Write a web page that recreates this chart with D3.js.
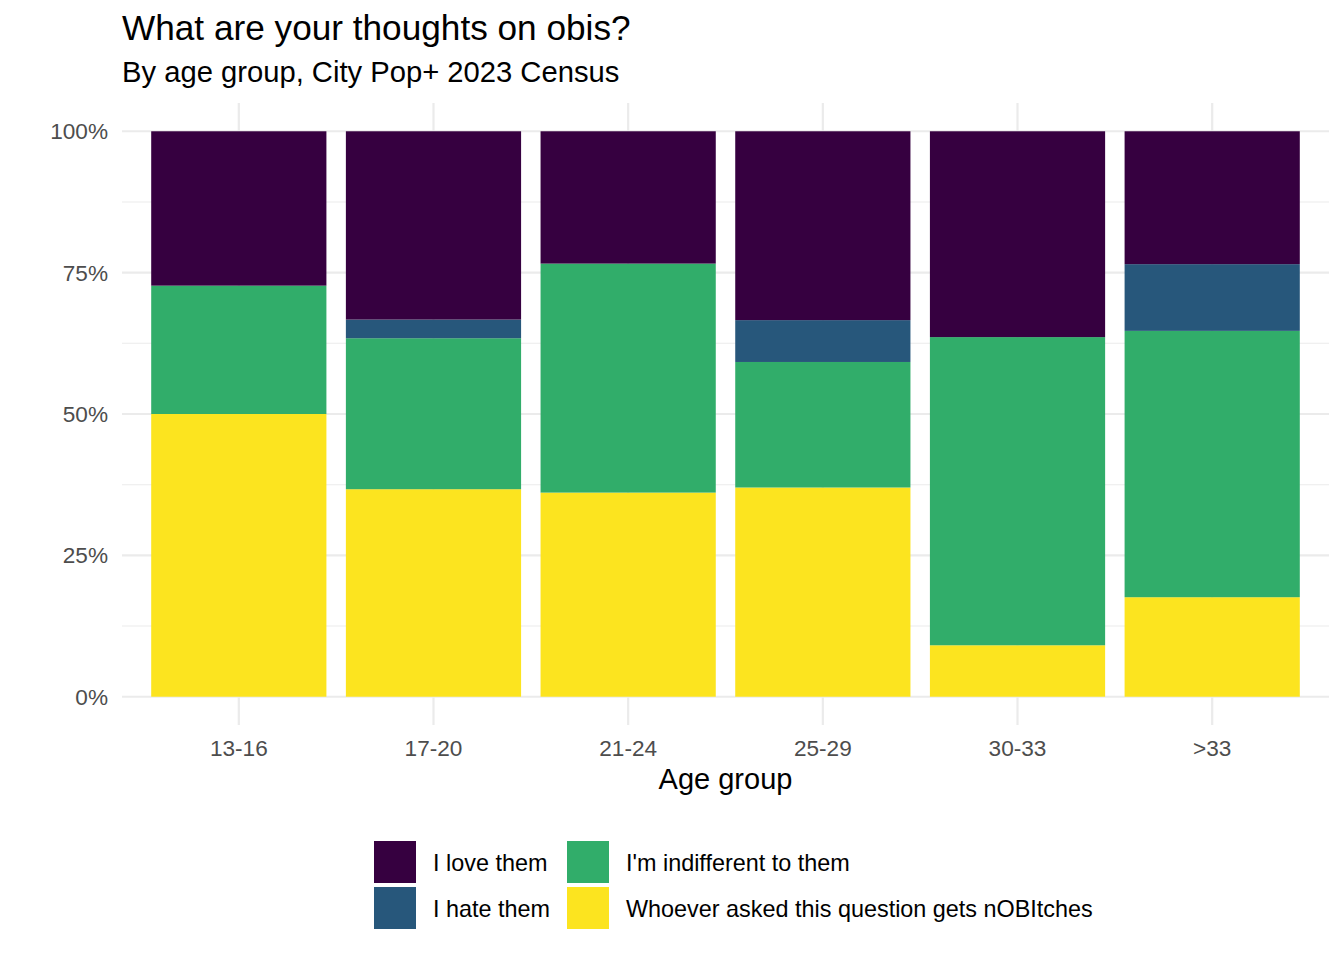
<!DOCTYPE html>
<html lang="en">
  <head>
    <meta charset="utf-8">
    <title>What are your thoughts on obis?</title>
    <style>
      body { margin: 0; background: #fff; }
      text { font-family: "Liberation Sans", Arial, Helvetica, sans-serif; }
    </style>
  </head>
  <body>
  <script src="https://d3js.org/d3.v7.min.js"></script>
  <div id="chart"></div>

  <script>

  // data, shares per age group
  var ageGroups = ["13-16", "17-20", "21-24", "25-29", "30-33", ">33"];
  var responses = ["Whoever asked this question gets nOBItches", "I'm indifferent to them", "I hate them", "I love them"];
  var whoever     = [0.500, 0.367, 0.361, 0.370, 0.091, 0.176];
  var indifferent = [0.227, 0.267, 0.405, 0.222, 0.545, 0.471];
  var hate        = [0.000, 0.033, 0.000, 0.074, 0.000, 0.118];
  var love        = [0.273, 0.333, 0.234, 0.334, 0.364, 0.235];
  var yTicks = [0, 0.25, 0.5, 0.75, 1];
  var yMinor = [0.125, 0.375, 0.625, 0.875];

  var colors = {
    "I love them": "#360040",
    "I hate them": "#27577B",
    "I'm indifferent to them": "#31AD6A",
    "Whoever asked this question gets nOBItches": "#FCE41F"
  };

  var rows = ageGroups.map(function(g, i) {
    var r = { group: g };
    r[responses[0]] = whoever[i];
    r[responses[1]] = indifferent[i];
    r[responses[2]] = hate[i];
    r[responses[3]] = love[i];
    return r;
  });

  var width = 1344, height = 960;
  var panel = { left: 122, right: 1329, top: 103, bottom: 725 };

  var svg = d3.select("#chart")
    .append("svg")
      .attr("width", width)
      .attr("height", height);

  var x = d3.scaleBand()
    .domain(ageGroups)
    .range([panel.left, panel.right])
    .paddingInner(0.1)
    .paddingOuter(0.15);

  var y = d3.scaleLinear()
    .domain([-0.05, 1.05])
    .range([panel.bottom, panel.top]);

  // grid
  svg.append("g")
    .selectAll("line")
    .data(yMinor)
    .enter()
    .append("line")
      .attr("x1", panel.left).attr("x2", panel.right)
      .attr("y1", function(d) { return y(d); })
      .attr("y2", function(d) { return y(d); })
      .attr("stroke", "#EBEBEB")
      .attr("stroke-width", 1.1);

  svg.append("g")
    .selectAll("line")
    .data(yTicks)
    .enter()
    .append("line")
      .attr("x1", panel.left).attr("x2", panel.right)
      .attr("y1", function(d) { return y(d); })
      .attr("y2", function(d) { return y(d); })
      .attr("stroke", "#EBEBEB")
      .attr("stroke-width", 2.2);

  svg.append("g")
    .selectAll("line")
    .data(ageGroups)
    .enter()
    .append("line")
      .attr("x1", function(d) { return x(d) + x.bandwidth() / 2; })
      .attr("x2", function(d) { return x(d) + x.bandwidth() / 2; })
      .attr("y1", panel.top).attr("y2", panel.bottom)
      .attr("stroke", "#EBEBEB")
      .attr("stroke-width", 2.2);

  // stacked bars
  var series = d3.stack().keys(responses)(rows);

  svg.append("g")
    .selectAll("g")
    .data(series)
    .enter()
    .append("g")
      .attr("fill", function(d) { return colors[d.key]; })
    .selectAll("rect")
    .data(function(d) { return d; })
    .enter()
    .append("rect")
      .attr("x", function(d) { return x(d.data.group); })
      .attr("y", function(d) { return y(d[1]); })
      .attr("width", x.bandwidth())
      .attr("height", function(d) { return y(d[0]) - y(d[1]); });

  // y axis labels
  svg.append("g")
    .selectAll("text")
    .data(yTicks)
    .enter()
    .append("text")
      .attr("x", 108)
      .attr("y", function(d) { return y(d) + 8; })
      .attr("text-anchor", "end")
      .attr("font-size", "22.6px")
      .attr("fill", "#4D4D4D")
      .text(function(d) { return d3.format(".0%")(d); });

  // x axis labels
  svg.append("g")
    .selectAll("text")
    .data(ageGroups)
    .enter()
    .append("text")
      .attr("x", function(d) { return x(d) + x.bandwidth() / 2; })
      .attr("y", 756)
      .attr("text-anchor", "middle")
      .attr("font-size", "22.6px")
      .attr("fill", "#4D4D4D")
      .text(function(d) { return d; });

  svg.append("text")
    .attr("x", (panel.left + panel.right) / 2)
    .attr("y", 789)
    .attr("text-anchor", "middle")
    .attr("font-size", "29px")
    .attr("fill", "black")
    .text("Age group");

  // titles
  svg.append("text")
    .attr("x", 122).attr("y", 40)
    .attr("font-size", "35.2px")
    .attr("fill", "black")
    .text("What are your thoughts on obis?");

  svg.append("text")
    .attr("x", 122).attr("y", 82)
    .attr("font-size", "29.2px")
    .attr("fill", "black")
    .text("By age group, City Pop+ 2023 Census");

  // legend, filled by column
  var legendOrder = ["I love them", "I hate them", "I'm indifferent to them", "Whoever asked this question gets nOBItches"];
  var colX = [374, 567];
  var legend = svg.append("g")
    .selectAll("g")
    .data(legendOrder)
    .enter()
    .append("g")
      .attr("transform", function(d, i) {
        return "translate(" + colX[Math.floor(i / 2)] + "," + (841 + (i % 2) * 46) + ")";
      });

  legend.append("rect")
    .attr("width", 42).attr("height", 42)
    .attr("fill", function(d) { return colors[d]; });

  legend.append("text")
    .attr("x", 59).attr("y", 30)
    .attr("font-size", "23.4px")
    .attr("fill", "black")
    .text(function(d) { return d; });

  </script>
  </body>
</html>
